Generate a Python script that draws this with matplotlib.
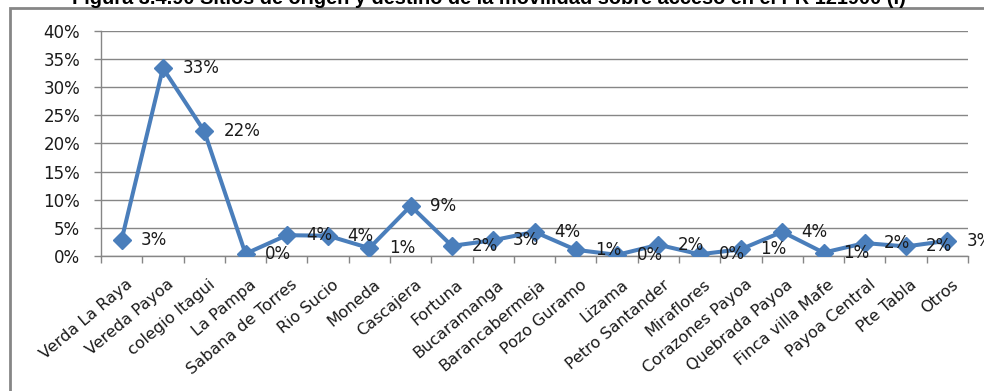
import numpy as np
import matplotlib
matplotlib.use('Agg')
import matplotlib.pyplot as plt
import matplotlib.transforms as mtransforms
from matplotlib.patches import Rectangle
from matplotlib.ticker import PercentFormatter

# Data
sitios = ['Verda La Raya', 'Vereda Payoa', 'colegio Itagui', 'La Pampa', 'Sabana de Torres',
          'Rio Sucio', 'Moneda', 'Cascajera', 'Fortuna', 'Bucaramanga', 'Barancabermeja',
          'Pozo Guramo', 'Lizama', 'Petro Santander', 'Miraflores', 'Corazones Payoa',
          'Quebrada Payoa', 'Finca villa Mafe', 'Payoa Central', 'Pte Tabla', 'Otros']
porcentaje = [0.029, 0.334, 0.222, 0.004, 0.037, 0.036, 0.014, 0.089, 0.018, 0.028, 0.043,
              0.011, 0.002, 0.020, 0.003, 0.012, 0.043, 0.006, 0.023, 0.017, 0.027]
titulo = 'Figura 3.4.90 Sitios de origen y destino de la movilidad sobre acceso en el PR 121900 (I)'

azul = '#4a7ebb'
gris = '#868686'
texto = '#1a1a1a'

fig = plt.figure(figsize=(9.84, 3.91), dpi=100)
ax = fig.add_axes([101/984, 1 - 256/391, 867/984, 225/391])

x = np.arange(len(sitios))
ax.plot(x, porcentaje, color=azul, lw=2.9, marker='D', ms=9, mfc=azul, mec=azul, zorder=3)

# data labels to the right of each point
for xi, v in zip(x, porcentaje):
    ax.annotate(f'{v:.0%}', (xi, v), xytext=(14, 0), textcoords='offset points',
                ha='left', va='center', fontsize=12, color=texto, annotation_clip=False)

ax.set_xlim(-0.5, len(sitios) - 0.5)
ax.set_ylim(0, 0.40)
ax.set_yticks(np.arange(0, 0.41, 0.05))
ax.yaxis.set_major_formatter(PercentFormatter(1.0, decimals=0))
ax.yaxis.grid(True, color=gris, lw=1)
ax.set_axisbelow(True)

ax.set_xticks(x)
ax.set_xticklabels(sitios, rotation=40, ha='right', rotation_mode='anchor',
                   fontsize=11.5, color=texto)
ax.set_xticks(np.arange(-0.5, len(sitios)), minor=True)
ax.tick_params(axis='x', which='major', length=0, pad=15)
ax.tick_params(axis='x', which='minor', length=5, color=gris, width=1)
ax.tick_params(axis='y', length=5, color=gris, width=1, pad=10, labelsize=12, labelcolor=texto)

# nudge category labels a little to the right
offset = mtransforms.ScaledTranslation(4/100, 0, fig.dpi_scale_trans)
for lbl in ax.get_xticklabels():
    lbl.set_transform(lbl.get_transform() + offset)

for s in ['top', 'right']:
    ax.spines[s].set_visible(False)
for s in ['left', 'bottom']:
    ax.spines[s].set_color(gris)
    ax.spines[s].set_linewidth(1)

# outer chart frame
fig.patches.append(Rectangle((10/984, -0.2), 1.2, 1.2 - 8/391, transform=fig.transFigure,
                             fill=False, edgecolor=gris, lw=2, clip_on=False))

fig.text(489/984, 1 - 4.5/391, titulo, ha='center', va='baseline', fontsize=14.4,
         fontweight='bold', family='Liberation Sans', color='black')

fig.savefig('out.png', dpi=100)
